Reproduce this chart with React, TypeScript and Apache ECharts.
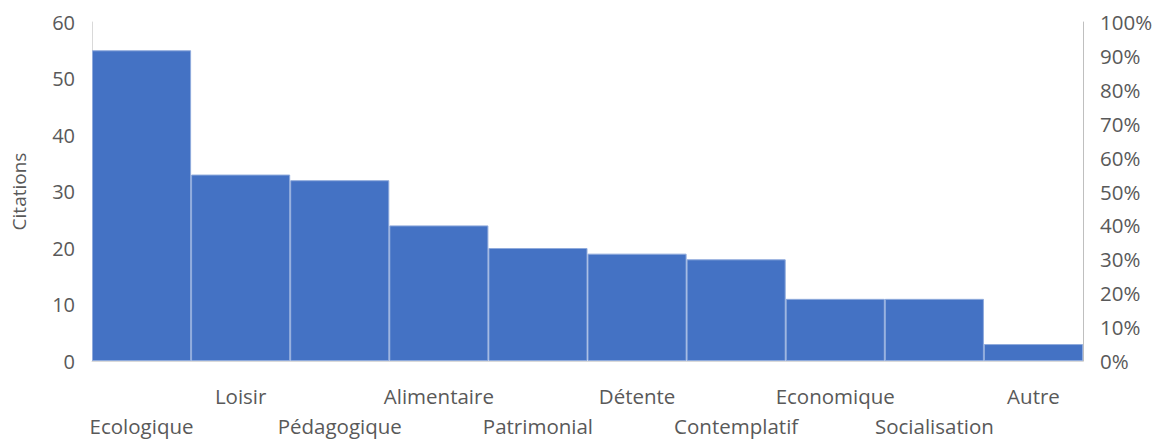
import React, { useEffect, useRef } from "react";
import * as echarts from "echarts";

const categories = ["Ecologique", "Loisir", "Pédagogique", "Alimentaire", "Patrimonial", "Détente", "Contemplatif", "Economique", "Socialisation", "Autre"];
const citations = [55, 33, 32, 24, 20, 19, 18, 11, 11, 3];
const leftTicks = { min: 0, max: 60, interval: 10 };
const rightTicks = { min: 0, max: 100, interval: 10 };

const FONT = "'Open Sans', 'Noto Sans', sans-serif";
const TEXT = "#595959";

export default function App() {
  const ref = useRef<HTMLDivElement>(null);
  useEffect(() => {
    document.body.style.margin = "0";
    if (!ref.current) return;
    const chart = echarts.init(ref.current, null, { renderer: "svg" });
    chart.setOption({
      animation: false,
      textStyle: { fontFamily: FONT },
      grid: { left: 92, right: 81, top: 22, bottom: 75 },
      xAxis: {
        type: "category",
        data: categories,
        axisLine: { show: true, lineStyle: { color: "#D9D9D9", width: 1 } },
        axisTick: { show: false },
        axisLabel: {
          interval: 0,
          color: TEXT,
          fontSize: 20.5,
          fontFamily: FONT,
          margin: 20,
          lineHeight: 30,
          formatter: (v: string, i: number) => (i % 2 === 0 ? "\n" + v : v),
        },
      },
      yAxis: [
        {
          type: "value",
          ...leftTicks,
          name: "Citations",
          nameLocation: "middle",
          nameGap: 64,
          nameRotate: 90,
          nameTextStyle: { color: TEXT, fontSize: 19, fontFamily: FONT },
          axisLine: { show: true, lineStyle: { color: "#D9D9D9" } },
          axisTick: { show: false },
          splitLine: { show: false },
          axisLabel: { color: TEXT, fontSize: 20, fontFamily: FONT, margin: 17 },
        },
        {
          type: "value",
          ...rightTicks,
          position: "right",
          axisLine: { show: true, lineStyle: { color: "#BFBFBF" } },
          axisTick: { show: false },
          splitLine: { show: false },
          axisLabel: { color: TEXT, fontSize: 20.5, fontFamily: FONT, margin: 17, formatter: "{value}%" },
        },
      ],
      series: [
        {
          type: "bar",
          data: citations,
          yAxisIndex: 0,
          barCategoryGap: 0,
          barGap: 0,
          itemStyle: { color: "#4472C4", borderColor: "#8FAADC", borderWidth: 1 },
        },
      ],
    });
    return () => chart.dispose();
  }, []);
  return <div ref={ref} style={{ width: 1164, height: 441 }} />;
}
